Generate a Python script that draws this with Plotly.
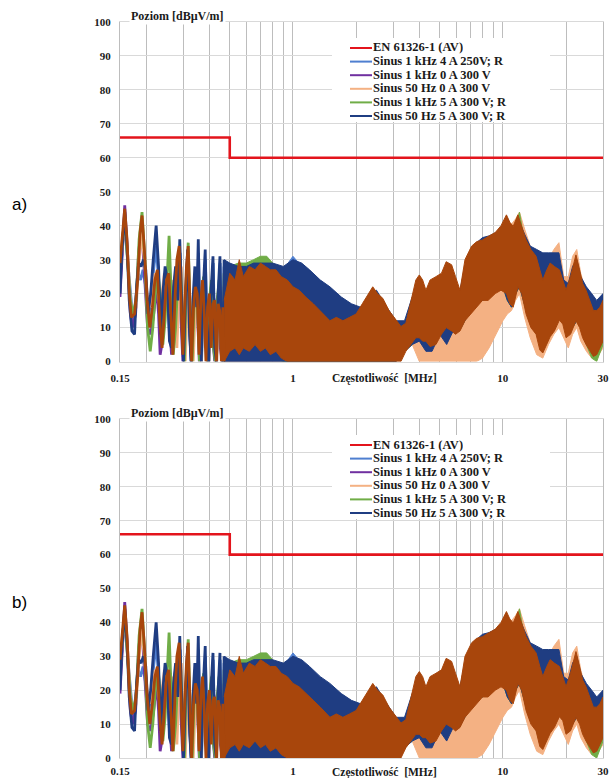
import plotly.graph_objects as go

# ------------------------------------------------------------------ data
limit_name = "EN 61326-1 (AV)"
limit_f = [0.15, 0.5, 0.5, 30]
limit_v = [66, 66, 60, 60]

series_names = ["Sinus 1 kHz 4 A 250V; R", "Sinus 1 kHz 0 A 300 V",
                "Sinus 50 Hz 0 A 300 V", "Sinus 1 kHz 5 A 300 V; R",
                "Sinus 50 Hz 5 A 300 V; R"]

x_tick_vals = [0.15, 1, 10, 30]
x_tick_text = ["0.15", "1", "10", "30"]
x_minor_vals = [0.2, 0.3, 0.4, 0.5, 0.6, 0.7, 0.8, 0.9, 2, 3, 4, 5, 6, 7, 8, 9, 20]
y_tick_vals = [0, 10, 20, 30, 40, 50, 60, 70, 80, 90, 100]

# low-frequency resolved oscillations (MHz, dBuV/m)
lightblue_f = [0.150, 0.154, 0.158, 0.163, 0.168, 0.173, 0.178, 0.183, 0.188, 0.193, 0.199, 0.205,
               0.211, 0.217, 0.223, 0.229, 0.235, 0.241, 0.247, 0.253, 0.259, 0.265, 0.271, 0.277,
               0.284, 0.290, 0.296, 0.302, 0.309, 0.316, 0.322, 0.328, 0.335, 0.342, 0.349, 0.355,
               0.361, 0.367, 0.374, 0.383, 0.391, 0.398, 0.406, 0.417, 0.425, 0.433, 0.441, 0.450,
               0.458, 0.465, 0.470]
lightblue_v = [24, 34, 42, 30, 20, 12, 18, 26, 24, 27, 22, 12,
               20, 28, 34, 24, 10, 20, 26, 20, 6, 8, 22, 27,
               16, 32, 12, 0, 18, 30, 8, 0, 16, 26, 14, 32,
               10, 0, 18, 30, 4, 0, 16, 29, 4, 0, 18, 29,
               4, 0, 28]

purple_f = [0.150, 0.154, 0.158, 0.163, 0.168, 0.172, 0.178, 0.184, 0.190, 0.196, 0.203, 0.210,
            0.217, 0.224, 0.229, 0.233, 0.239, 0.246, 0.252, 0.258, 0.264, 0.271, 0.278, 0.285,
            0.292, 0.299, 0.306, 0.314, 0.321, 0.328, 0.336, 0.344, 0.351, 0.358, 0.366, 0.374,
            0.382, 0.390, 0.399, 0.408, 0.416, 0.424, 0.433, 0.442, 0.451, 0.460, 0.470]
purple_v = [19, 34, 46, 32, 14, 10, 14, 32, 40, 26, 10, 8,
            14, 22, 14, 2, 6, 22, 26, 12, 2, 14, 24, 28,
            14, 0, 18, 26, 12, 0, 14, 22, 14, 0, 16, 22,
            8, 0, 16, 22, 6, 0, 18, 20, 4, 0, 22]

peach_f = [0.150, 0.154, 0.158, 0.163, 0.168, 0.173, 0.179, 0.185, 0.190, 0.196, 0.202, 0.208,
           0.214, 0.220, 0.226, 0.232, 0.238, 0.244, 0.250, 0.256, 0.262, 0.268, 0.274, 0.280,
           0.287, 0.294, 0.300, 0.307, 0.314, 0.321, 0.328, 0.335, 0.343, 0.351, 0.358, 0.366,
           0.374, 0.382, 0.390, 0.398, 0.407, 0.416, 0.425, 0.434, 0.443, 0.452, 0.461, 0.470]
peach_v = [26, 34, 42, 32, 18, 14, 16, 30, 38, 30, 20, 16,
           20, 26, 22, 16, 20, 26, 20, 14, 18, 24, 14, 4,
           22, 28, 10, 0, 18, 24, 8, 0, 16, 22, 6, 0,
           16, 22, 4, 0, 14, 20, 4, 0, 16, 18, 2, 18]

green_f = [0.150, 0.154, 0.158, 0.163, 0.168, 0.173, 0.179, 0.185, 0.191, 0.197, 0.203, 0.209,
           0.215, 0.222, 0.228, 0.234, 0.240, 0.246, 0.252, 0.257, 0.263, 0.269, 0.276, 0.283,
           0.290, 0.297, 0.304, 0.311, 0.317, 0.324, 0.331, 0.338, 0.345, 0.352, 0.359, 0.367,
           0.375, 0.383, 0.391, 0.400, 0.409, 0.418, 0.427, 0.436, 0.445, 0.455, 0.464, 0.470]
green_v = [25, 36, 42, 30, 18, 14, 18, 36, 44, 30, 10, 3,
           10, 22, 26, 18, 5, 12, 28, 37, 20, 2, 10, 24,
           30, 12, 0, 24, 35, 14, 0, 16, 24, 14, 0, 18,
           25, 8, 0, 18, 24, 4, 0, 18, 24, 4, 0, 26]

darkblue_f = [0.150, 0.153, 0.158, 0.162, 0.166, 0.171, 0.176, 0.180, 0.184, 0.189, 0.194, 0.199,
              0.204, 0.210, 0.216, 0.223, 0.229, 0.234, 0.240, 0.246, 0.252, 0.258, 0.264, 0.270,
              0.276, 0.283, 0.289, 0.295, 0.301, 0.308, 0.315, 0.321, 0.327, 0.334, 0.341, 0.348,
              0.354, 0.360, 0.366, 0.373, 0.382, 0.390, 0.397, 0.405, 0.416, 0.424, 0.432, 0.440,
              0.449, 0.457, 0.464, 0.470]
darkblue_v = [20, 32, 44, 34, 18, 9, 8, 22, 29, 28, 30, 27,
              14, 20, 30, 40, 28, 8, 20, 28, 24, 6, 4, 22,
              28, 18, 36, 14, 0, 20, 33, 10, 0, 18, 28, 16,
              36, 12, 0, 20, 33, 4, 0, 18, 31, 4, 0, 20,
              31, 4, 0, 30]

brown_f = [0.150, 0.154, 0.158, 0.162, 0.166, 0.170, 0.176, 0.182, 0.187, 0.191, 0.196, 0.202,
           0.208, 0.214, 0.220, 0.226, 0.232, 0.238, 0.244, 0.250, 0.256, 0.262, 0.268, 0.274,
           0.280, 0.287, 0.293, 0.299, 0.305, 0.311, 0.317, 0.323, 0.329, 0.336, 0.343, 0.350,
           0.357, 0.364, 0.371, 0.378, 0.385, 0.392, 0.400, 0.408, 0.416, 0.424, 0.432, 0.440,
           0.448, 0.456, 0.464, 0.470]
brown_v = [29, 38, 45, 36, 20, 13, 14, 24, 38, 43, 33, 18,
           10, 16, 24, 27, 12, 4, 14, 24, 26, 12, 2, 18,
           30, 34, 18, 2, 16, 28, 34, 18, 0, 16, 22, 20,
           2, 18, 24, 14, 0, 16, 20, 4, 17, 18, 0, 17,
           15, 0, 16, 0]

# dense part of the spectra: upper / lower envelopes on a common frequency grid
band_f = [0.47, 0.50, 0.55, 0.60, 0.65, 0.70, 0.75, 0.80, 0.90,
          1.0, 1.1, 1.2, 1.35, 1.5, 1.7, 1.9,
          2.1, 2.3, 2.5, 2.8, 3.1, 3.4, 3.7,
          4.0, 4.3, 4.6, 5.0, 5.4, 5.8, 6.2, 6.6, 7.0,
          7.5, 8.0, 8.6, 9.3, 10.0, 10.5, 11.0,
          11.5, 12.0, 12.7, 13.5, 14.5, 15.5, 16.5, 17.5, 18.5,
          19.5, 20.5, 21.5, 22.5, 23.5, 25.0, 26.5, 28.0, 30.0]

lightblue_hi = [28, 28, 27, 27, 28, 28, 28, 27, 27,
                31, 28, 26, 23, 20, 18, 16,
                15, 18, 20, 16, 11, 11, 18,
                22, 19, 22, 23, 26, 24, 19, 27, 30,
                32, 33, 34, 35, 38, 40, 37,
                38, 39, 35, 32, 31, 30, 30, 30, 28,
                22, 22, 26, 28, 23, 20, 18, 16, 18]
purple_hi = [22, 25, 27, 26, 26, 26, 26, 25, 23,
             20, 18, 16, 13, 11, 11, 11,
             12, 16, 17, 14, 9, 8, 14,
             22, 18, 21, 23, 26, 24, 18, 27, 30,
             32, 33, 34, 35, 38, 40, 37,
             38, 40, 34, 29, 27, 21, 25, 25, 24,
             19, 20, 25, 28, 22, 17, 14, 12, 14]
peach_hi = [18, 22, 24, 24, 24, 23, 23, 22, 20,
            18, 16, 15, 13, 11, 10, 11,
            13, 16, 18, 15, 10, 9, 16,
            22, 20, 22, 24, 27, 25, 19, 28, 32,
            33, 34, 35, 37, 40, 41, 40.5,
            42, 44, 39, 34, 31, 26, 30, 33, 35,
            25, 25, 31, 33, 26, 20, 17, 14, 17]
peach_lo = [0, 0, 0, 0, 0, 0, 0, 0, 0,
            0, 0, 0, 0, 0, 0, 0,
            0, 0, 0, 0, 0, 6, 5,
            0, 0, 0, 0, 0, 0, 0, 0, 0,
            0, 1, 4, 8, 12, 14, 15,
            18, 20, 13, 7, 2, 1, 5, 8, 10,
            7, 4, 8, 10, 6, 3, 1, 1, 4]
green_hi = [26, 28, 29, 29, 30, 31, 31, 29, 26,
            21, 19, 17, 14, 13, 13, 12,
            13, 17, 18, 15, 10, 9, 15,
            23, 19, 22, 24, 27, 25, 19, 28, 31,
            33, 34, 35, 36, 39, 41, 38,
            39, 44, 35, 30, 28, 22, 26, 26, 25,
            20, 21, 26, 29, 23, 18, 15, 13, 15]
green_lo = [0, 2, 3, 2, 3, 2, 3, 1, 0,
            0, 0, 0, 0, 0, 0, 0,
            0, 0, 0, 0, 0, 3, 5,
            7, 6, 5, 8, 10, 9, 9, 12, 15,
            18, 18, 19, 21, 22, 18, 16,
            20, 22, 17, 11, 8, 3, 7, 10, 13,
            11, 8, 10, 12, 10, 5, 1, 0, 5]
darkblue_hi = [30, 29, 28, 28, 29, 29, 29, 29, 28,
               30, 29, 27, 24, 22, 19, 17,
               16, 19, 21, 16, 12, 12, 19,
               23, 20, 23, 24, 27, 25, 20, 28, 32,
               35, 36.5, 37, 38, 40, 41, 39,
               40, 41, 37.5, 34, 33, 32, 32, 32, 32,
               24, 23, 28, 30, 25, 22, 20, 18, 20]
darkblue_lo = [0, 0, 0, 0, 0, 0, 0, 0, 0,
               0, 0, 0, 0, 0, 0, 0,
               0, 0, 0, 0, 0, 3, 5,
               6, 3, 3, 8, 5, 9, 9, 12, 15,
               18, 18, 19, 21, 22, 18, 16,
               20, 22, 17, 11, 8, 3, 7, 10, 13,
               11, 8, 10, 12, 10, 6, 3, 3, 7]
lightblue_lo = darkblue_lo
purple_lo = [0, 3, 4, 3, 4, 3, 4, 2, 0,
             0, 0, 0, 0, 0, 0, 0,
             0, 0, 0, 0, 0, 3, 5,
             7, 6, 5, 8, 10, 9, 9, 12, 15,
             18, 18, 19, 21, 22, 18, 16,
             20, 22, 17, 11, 8, 3, 7, 10, 13,
             11, 8, 10, 12, 10, 6, 3, 3, 7]

# the top (brown) spectrum, read on a finer grid
brown_band_f = [0.47, 0.50, 0.53, 0.555, 0.58, 0.62, 0.66, 0.70, 0.74, 0.78, 0.83,
                0.88, 0.94, 1.0, 1.07, 1.15, 1.25, 1.35, 1.5, 1.61, 1.73, 1.86,
                2.0, 2.14, 2.3, 2.4, 2.53, 2.68, 2.87, 3.1, 3.27, 3.45, 3.65,
                3.85, 4.0, 4.15, 4.3, 4.5, 4.8, 5.1, 5.37, 5.7, 5.95, 6.25,
                6.6, 7.1, 7.5, 8.0, 8.5, 9.2, 9.8, 10.4, 10.8, 11.2, 11.8,
                12.3, 12.9, 13.6, 14.4, 15.0, 15.5, 16.2, 16.8, 17.6, 18.6, 19.3,
                20.0, 21.0, 22.3, 23.2, 24.0, 24.9, 26.0, 27.0, 28.0, 29.0, 30.0]
brown_hi = [18, 26, 24, 30, 25, 28, 27, 29, 28, 27, 27,
            25, 24, 22, 21, 19, 17, 15, 12, 13, 12, 13,
            14, 17, 20, 22, 20, 18.6, 15, 12, 10.3, 11.3, 18,
            24, 25.5, 24, 21, 24, 25, 26, 29.4, 28.5, 25, 21,
            30, 34, 35.3, 35.8, 36.8, 38, 40, 43.2, 41, 39.8, 43.2,
            40, 35.8, 33, 31, 27, 24, 27, 29, 28, 27, 24,
            21, 25, 31.4, 27, 23, 21, 18, 15, 15, 16, 18]
brown_lo = [0, 3, 4, 2, 4, 3, 5, 3, 4, 2, 3,
            1, 0, 0, 0, 0, 0, 0, 0, 0, 0, 0,
            0, 0, 0, 0, 0, 0, 0, 0, 0, 3, 5,
            7, 7, 6, 6, 4.4, 5, 8, 10, 9, 8, 9,
            12, 14, 16, 18, 18, 20, 21, 20, 17, 16, 22,
            20, 14, 10, 8, 3.4, 2.5, 5, 7.3, 9, 12.2, 11,
            7, 8, 12, 10, 7, 5, 3, 1.5, 2, 4, 6]

panel_labels = ["a)", "b)"]
x_title = "Częstotliwość  [MHz]"
y_title = "Poziom [dBµV/m]"

# ------------------------------------------------------------------ styles
RED = "#e3141c"
COLORS = ["#4f7fd0", "#7030a0", "#f4b183", "#70ad47", "#1f3d82"]
BROWN = "#a8460c"
SERIF = "Liberation Serif"
GRID_V = "#bdbdbd"
GRID_H = "#d9d9d9"
TXT = "#1a1a1a"

W, H = 612, 778
ML, MR, MT, MB = 120, 9, 22, 20
PANEL_TOP = [22, 419]
PANEL_BOT = [361.5, 758]
LABEL_STANDOFF = [6, 3]

lines = [(lightblue_f, lightblue_v, band_f, lightblue_hi, lightblue_lo, COLORS[0]),
         (purple_f, purple_v, band_f, purple_hi, purple_lo, COLORS[1]),
         (peach_f, peach_v, band_f, peach_hi, peach_lo, COLORS[2]),
         (green_f, green_v, band_f, green_hi, green_lo, COLORS[3]),
         (darkblue_f, darkblue_v, band_f, darkblue_hi, darkblue_lo, COLORS[4]),
         (brown_f, brown_v, brown_band_f, brown_hi, brown_lo, BROWN)]

fig = go.Figure()


def px_x(px):
    return (px - ML) / (W - ML - MR)


def px_y(py):
    return (H - MB - py) / (H - MT - MB)


annotations = []
shapes = []
for p in range(2):
    xa = "x" if p == 0 else "x2"
    ya = "y" if p == 0 else "y2"
    for f, v, bf, hi, lo, col in lines:
        fig.add_trace(go.Scatter(x=bf + bf[::-1], y=hi + lo[::-1],
                                 mode="lines", fill="toself", fillcolor=col,
                                 line=dict(color=col, width=1), xaxis=xa, yaxis=ya,
                                 showlegend=False, hoverinfo="skip"))
        fig.add_trace(go.Scatter(x=f, y=v, mode="lines",
                                 line=dict(color=col, width=2.8), xaxis=xa, yaxis=ya,
                                 showlegend=False, hoverinfo="skip"))
    fig.add_trace(go.Scatter(x=limit_f, y=limit_v, mode="lines",
                             line=dict(color=RED, width=2.6), xaxis=xa, yaxis=ya,
                             showlegend=False, hoverinfo="skip"))

    top = PANEL_TOP[p]
    bot = PANEL_BOT[p]
    # legend box (white, hides grid)
    shapes.append(dict(type="rect", xref="paper", yref="paper", layer="above",
                       x0=px_x(332), x1=px_x(550), y0=px_y(top + 100), y1=px_y(top + 16),
                       fillcolor="white", line=dict(width=0)))
    leg_labels = [limit_name] + series_names
    leg_colors = [RED] + COLORS
    for i, (lab, col) in enumerate(zip(leg_labels, leg_colors)):
        ypx = top + 25 + 13.6 * i
        shapes.append(dict(type="line", xref="paper", yref="paper", layer="above",
                           x0=px_x(350), x1=px_x(372), y0=px_y(ypx + 1), y1=px_y(ypx + 1),
                           line=dict(color=col, width=2)))
        annotations.append(dict(text="<b>%s</b>" % lab, xref="paper", yref="paper",
                                x=px_x(372), y=px_y(ypx), xanchor="left", yanchor="middle",
                                showarrow=False, height=13.4, borderpad=0, valign="middle",
                                font=dict(family=SERIF, size=12.5, color=TXT)))
    # axis titles
    annotations.append(dict(text="<b>%s</b>" % y_title, xref="paper", yref="paper",
                            x=px_x(129), y=px_y(top - 6), xanchor="left",
                            yanchor="middle", showarrow=False, bgcolor="white",
                            font=dict(family=SERIF, size=12, color=TXT)))
    annotations.append(dict(text="<b>%s</b>" % x_title, xref="paper", yref="paper",
                            x=px_x(330), y=px_y(bot + 17 - (6 - LABEL_STANDOFF[p])),
                            xanchor="left", yanchor="middle", showarrow=False,
                            font=dict(family=SERIF, size=11.5, color=TXT)))
    annotations.append(dict(text=panel_labels[p], xref="paper", yref="paper",
                            x=px_x(19), y=px_y([205, 602][p]), xanchor="center",
                            yanchor="middle", showarrow=False,
                            font=dict(family="Liberation Sans", size=17, color="black")))


def x_axis(p):
    return dict(type="log", range=[-0.8239, 1.4771], tickvals=x_tick_vals,
                ticktext=x_tick_text, showgrid=True, gridcolor=GRID_V, gridwidth=1,
                minor=dict(tickvals=x_minor_vals, showgrid=True, gridcolor=GRID_V,
                           gridwidth=1, ticks=""),
                ticks="", zeroline=False, showline=True, linecolor=GRID_H, mirror=True,
                tickfont=dict(family=SERIF, size=11, color=TXT, weight="bold"),
                ticklabelstandoff=LABEL_STANDOFF[p], domain=[0, 1],
                anchor="y" if p == 0 else "y2")


def y_axis(p):
    dom = [px_y(PANEL_BOT[0]), 1.0] if p == 0 else [0.0, px_y(PANEL_TOP[1])]
    return dict(range=[0, 100], tickvals=y_tick_vals, showgrid=True, gridcolor=GRID_H,
                gridwidth=1, ticks="", zeroline=False, showline=True, linecolor=GRID_V,
                mirror=True,
                tickfont=dict(family=SERIF, size=11, color=TXT, weight="bold"),
                ticklabelstandoff=6, domain=dom, anchor="x" if p == 0 else "x2")


fig.update_layout(
    width=W, height=H, margin=dict(l=ML, r=MR, t=MT, b=MB, autoexpand=False),
    paper_bgcolor="white", plot_bgcolor="white", showlegend=False,
    xaxis=x_axis(0), yaxis=y_axis(0), xaxis2=x_axis(1), yaxis2=y_axis(1),
    annotations=annotations, shapes=shapes,
)

fig.write_html("out.html", config={"displayModeBar": False},
               post_script="document.body.style.margin='0';")
